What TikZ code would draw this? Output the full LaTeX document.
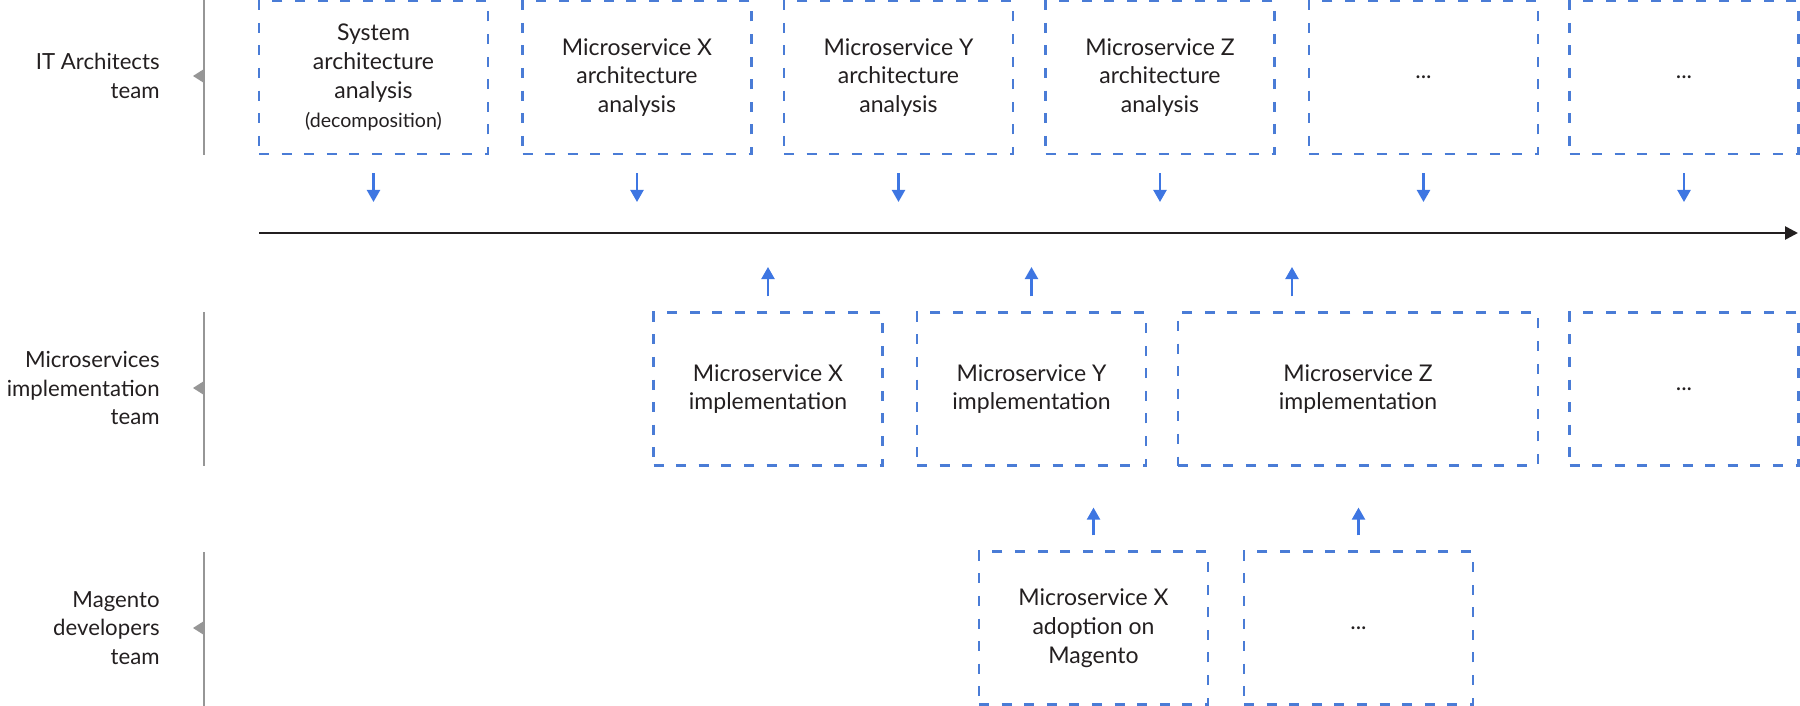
\documentclass[tikz,border=0pt]{standalone}
\usepackage{fontspec}
\setmainfont{Lato}
\usetikzlibrary{arrows.meta}

\definecolor{boxblue}{RGB}{74,124,214}
\definecolor{arrowblue}{RGB}{62,118,226}
\definecolor{lanegray}{RGB}{150,150,150}
\definecolor{inkgray}{RGB}{35,31,32}

\begin{document}
\begin{tikzpicture}
  [x=0.5pt,y=-0.5pt,
   every node/.style={font=\fontsize{11.5}{14.4}\selectfont,text=inkgray},
   task/.style={draw=boxblue,line width=1.1pt,dash pattern=on 5pt off 6.3pt,
     align=center,minimum width=114.5pt,minimum height=76.5pt,inner sep=0pt},
   team/.style={align=right,anchor=east,inner sep=0pt,font=\fontsize{11.1}{14.4}\selectfont},
   flow/.style={draw=arrowblue,line width=1.1pt,-{Triangle[length=6pt,width=6.5pt]}},
   timeline/.style={draw=inkgray,line width=1.3pt,-{Triangle[length=6.5pt,width=6.5pt]}},
   lane/.style={draw=lanegray,line width=1pt}]
  \useasboundingbox (0,0) rectangle (1800,706);

  % teams
  \node[team] (t1) at (160,76)  {IT Architects\\team};
  \node[team] (t2) at (160,388) {Microservices\\implementation\\team};
  \node[team] (t3) at (160,628) {Magento\\developers\\team};
  \foreach \top/\bot/\mid in {0/155/76, 312/466/388, 552/706/628} {
    \draw[lane] (204,\top) -- (204,\bot);
    \fill[lanegray] (204,\mid-7) -- (193,\mid) -- (204,\mid+7) -- cycle;
  }

  % architects
  \node[task] (a1) at (373.5,77.5) {System\\architecture\\analysis\\{\fontsize{9.8}{12}\selectfont(decomposition)}};
  \node[task] (a2) at (637,77.5)   {Microservice X\\architecture\\analysis};
  \node[task] (a3) at (898.5,77.5) {Microservice Y\\architecture\\analysis};
  \node[task] (a4) at (1160,77.5)  {Microservice Z\\architecture\\analysis};
  \node[task] (a5) at (1423.5,77.5) {...};
  \node[task] (a6) at (1684,77.5)  {...};

  % timeline
  \coordinate (tl0) at (259,233);
  \coordinate (tl1) at (1798,233);
  \draw[timeline] (tl0) -- (tl1);

  % implementation
  \node[task] (m1) at (768,389)    {Microservice X\\implementation};
  \node[task] (m2) at (1031.5,389) {Microservice Y\\implementation};
  \node[task,minimum width=180pt] (m3) at (1358,389) {Microservice Z\\implementation};
  \node[task] (m4) at (1684,389)   {...};

  % magento
  \node[task] (g1) at (1093.5,628) {Microservice X\\adoption on\\Magento};
  \node[task] (g2) at (1358.5,628) {...};

  \foreach \n in {a1,a2,a3,a4,a5,a6}
    \draw[flow,shorten <=9pt,shorten >=15.5pt] (\n.south) -- (\n.south |- tl0);

  \coordinate (m3a) at ([xshift=-33pt]m3.north);
  \foreach \n in {m1.north,m2.north,m3a}
    \draw[flow,shorten <=7.5pt,shorten >=17pt] (\n) -- (\n |- tl0);

  \foreach \from/\to in {g1/m2,g2/m3}
    \draw[flow,shorten <=7.5pt,shorten >=20.5pt] (\from.north) -- (\from.north |- \to.south);
\end{tikzpicture}
\end{document}
